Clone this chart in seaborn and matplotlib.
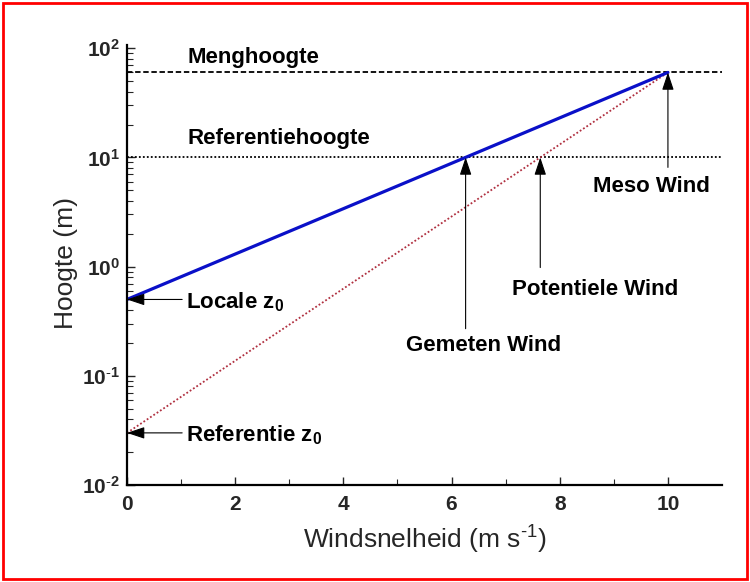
import matplotlib
matplotlib.use("Agg")
import matplotlib.pyplot as plt
from matplotlib.patches import Rectangle
from matplotlib.ticker import LogLocator, FixedLocator, NullFormatter
import seaborn as sns
import pandas as pd

# Wind speeds (m/s) where each profile meets the reference height and mixing height
gemeten_wind = 6.26
potentiele_wind = 7.64
meso_wind = 10.0

# Heights (m)
z0_locaal = 0.5
z0_referentie = 0.03
referentiehoogte = 10.0
menghoogte = 60.0

x_ticks = [0, 2, 4, 6, 8, 10]
y_ticks = [0.01, 0.1, 1, 10, 100]
y_tick_labels = [r"$\mathbf{10^{\text{-}2}}$", r"$\mathbf{10^{\text{-}1}}$",
                 r"$\mathbf{10^{0}}$", r"$\mathbf{10^{1}}$", r"$\mathbf{10^{2}}$"]

lokaal = pd.DataFrame({"u": [0.0, gemeten_wind, meso_wind],
                       "z": [z0_locaal, referentiehoogte, menghoogte]})
referentie = pd.DataFrame({"u": [0.0, potentiele_wind, meso_wind],
                           "z": [z0_referentie, referentiehoogte, menghoogte]})

sns.set_theme(style="ticks")
plt.rcParams["font.family"] = ["Liberation Sans", "DejaVu Sans"]
plt.rcParams["mathtext.fontset"] = "custom"
plt.rcParams["mathtext.rm"] = "Liberation Sans"
plt.rcParams["mathtext.bf"] = "Liberation Sans:bold"
plt.rcParams["mathtext.it"] = "Liberation Sans:italic"

fig = plt.figure(figsize=(7.5, 5.82), dpi=100)
ax = fig.add_axes([0.1693, 0.1667, 0.7934, 0.756])

ax.set_yscale("log")
ax.set_xlim(0, 11)
ax.set_ylim(0.01, 107)

# Horizontal reference levels
ax.axhline(menghoogte, color="black", lw=1.3, ls=(0, (3, 1.5)), zorder=1)
ax.axhline(referentiehoogte, color="black", lw=1.3, ls=(0, (1, 1.2)), zorder=1)

sns.lineplot(data=referentie, x="u", y="z", ax=ax, color="#b03040",
             lw=1.3, ls=(0, (1, 1.2)), sort=False)
sns.lineplot(data=lokaal, x="u", y="z", ax=ax, color="#0a10c8",
             lw=2.3, sort=False)

# Ticks and axes
ax.xaxis.set_major_locator(FixedLocator(x_ticks))
ax.xaxis.set_minor_locator(FixedLocator([1, 3, 5, 7, 9]))
ax.set_xticklabels([str(t) for t in x_ticks], fontsize=15, fontweight="bold")
ax.yaxis.set_major_locator(FixedLocator(y_ticks))
ax.yaxis.set_minor_locator(LogLocator(base=10, subs=range(2, 10)))
ax.yaxis.set_minor_formatter(NullFormatter())
ax.set_yticklabels(y_tick_labels, fontsize=15)
ax.tick_params(which="major", direction="in", length=6, width=1.0)
ax.tick_params(axis="x", which="major", pad=7)
ax.tick_params(axis="y", which="major", pad=5)
ax.tick_params(which="minor", direction="in", length=4, width=0.8)
for s in ["top", "right"]:
    ax.spines[s].set_visible(False)
for s in ["left", "bottom"]:
    ax.spines[s].set_linewidth(1.6)
    ax.spines[s].set_color("black")

ax.set_xlabel(r"Windsnelheid (m s$^{\text{-1}}$)", fontsize=19)
ax.set_ylabel("Hoogte (m)", fontsize=19)
ax.xaxis.label.set_va("center")
ax.yaxis.label.set_va("center")
ax.xaxis.set_label_coords(0.5, -0.125)
ax.yaxis.set_label_coords(-0.1025, 0.505)

lbl = dict(fontsize=16, fontweight="bold", color="black")
arrow = dict(arrowstyle="-|>,head_length=0.9,head_width=0.3",
             color="black", lw=0.8, shrinkA=0, shrinkB=0)

ax.text(1.11, 82.6, "Menghoogte", ha="left", va="center", **lbl)
ax.text(1.11, 14.9, "Referentiehoogte", ha="left", va="center", **lbl)

ax.annotate("", xy=(meso_wind, menghoogte), xytext=(meso_wind, 8.1), arrowprops=arrow)
ax.text(9.69, 5.4, "Meso Wind", ha="center", va="center", **lbl)

ax.annotate("", xy=(potentiele_wind, referentiehoogte), xytext=(potentiele_wind, 0.98),
            arrowprops=arrow)
ax.text(8.65, 0.615, "Potentiele Wind", ha="center", va="center", **lbl)

ax.annotate("", xy=(gemeten_wind, referentiehoogte), xytext=(gemeten_wind, 0.27),
            arrowprops=arrow)
ax.text(6.60, 0.19, "Gemeten Wind", ha="center", va="center", **lbl)

ax.annotate("", xy=(0, z0_locaal), xytext=(1.02, z0_locaal), arrowprops=arrow)
ax.text(1.09, z0_locaal * 0.95, r"Locale z$_\mathbf{0}$", ha="left", va="center", **lbl)

ax.annotate("", xy=(0, z0_referentie), xytext=(1.02, z0_referentie), arrowprops=arrow)
ax.text(1.09, z0_referentie * 0.95, r"Referentie z$_\mathbf{0}$", ha="left", va="center", **lbl)

# Red frame around the figure
fig.patches.append(Rectangle((0.004, 0.005), 0.992, 0.99, transform=fig.transFigure,
                             fill=False, edgecolor="red", lw=2.0))

fig.savefig("out.png", dpi=100)
